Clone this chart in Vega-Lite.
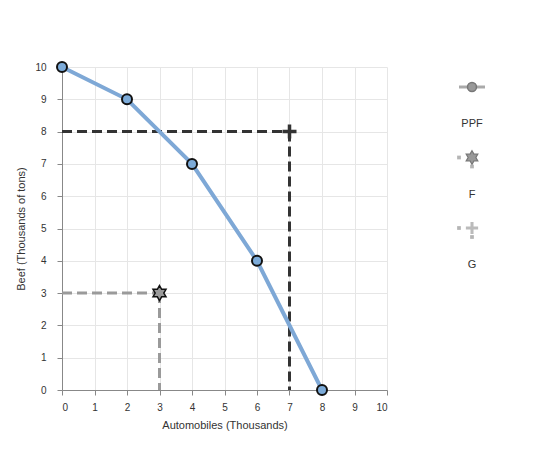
{
  "$schema": "https://vega.github.io/schema/vega-lite/v6.json",
  "background": "white",
  "padding": {"left": 15, "top": 58, "right": 5, "bottom": 5},
  "config": {
    "font": "Liberation Sans",
    "view": {"stroke": null},
    "concat": {"spacing": 64}
  },
  "datasets": {
    "ppf": [
      {"autos": 0, "beef": 10},
      {"autos": 2, "beef": 9},
      {"autos": 4, "beef": 7},
      {"autos": 6, "beef": 4},
      {"autos": 8, "beef": 0}
    ],
    "guides": [
      {"series": "F", "x": 0, "y": 3, "x2": 3, "y2": 3},
      {"series": "F", "x": 3, "y": 3, "x2": 3, "y2": 0},
      {"series": "G", "x": 0, "y": 8, "x2": 7, "y2": 8},
      {"series": "G", "x": 7, "y": 8, "x2": 7, "y2": 0}
    ],
    "points": [
      {"series": "F", "autos": 3, "beef": 3},
      {"series": "G", "autos": 7, "beef": 8}
    ],
    "legend": [
      {"item": "PPF"},
      {"item": "F"},
      {"item": "G"}
    ]
  },
  "hconcat": [
    {
      "width": 325,
      "height": 323,
      "encoding": {
        "x": {
          "type": "quantitative",
          "scale": {"domain": [0, 10], "nice": false},
          "axis": {
            "title": "Automobiles (Thousands)",
            "values": [0,1,2,3,4,5,6,7,8,9,10],
            "grid": true, "gridColor": "#e6e6e6",
            "domainColor": "#888", "tickColor": "#888", "tickSize": 5,
            "labelFontSize": 10, "labelColor": "#333", "labelPadding": 7,
            "titleFontSize": 11, "titleFontWeight": "normal", "titleColor": "#333", "titlePadding": 7
          }
        },
        "y": {
          "type": "quantitative",
          "scale": {"domain": [0, 10], "nice": false},
          "axis": {
            "title": "Beef (Thousands of tons)",
            "values": [0,1,2,3,4,5,6,7,8,9,10],
            "grid": true, "gridColor": "#e6e6e6",
            "domainColor": "#888", "tickColor": "#888", "tickSize": 5,
            "labelFontSize": 10, "labelColor": "#333", "labelPadding": 11,
            "titleFontSize": 11, "titleFontWeight": "normal", "titleColor": "#333", "titlePadding": 8
          }
        }
      },
      "layer": [
        {
          "data": {"name": "guides"},
          "mark": {"type": "rule", "strokeWidth": 3, "strokeDash": [10, 5]},
          "encoding": {
            "x": {"field": "x", "type": "quantitative"},
            "y": {"field": "y", "type": "quantitative"},
            "x2": {"field": "x2"},
            "y2": {"field": "y2"},
            "color": {"field": "series", "type": "nominal", "scale": {"domain": ["F", "G"], "range": ["#9a9a9a", "#333333"]}, "legend": null}
          }
        },
        {
          "data": {"name": "ppf"},
          "mark": {"type": "line", "interpolate": "linear", "color": "#7ea8d6", "strokeWidth": 4},
          "encoding": {
            "x": {"field": "autos", "type": "quantitative"},
            "y": {"field": "beef", "type": "quantitative"}
          }
        },
        {
          "data": {"name": "ppf"},
          "mark": {"type": "point", "shape": "circle", "filled": true, "fill": "#7cabd9", "stroke": "#111", "strokeWidth": 2, "size": 100, "opacity": 1},
          "encoding": {
            "x": {"field": "autos", "type": "quantitative"},
            "y": {"field": "beef", "type": "quantitative"}
          }
        },
        {
          "data": {"name": "points"},
          "transform": [{"filter": "datum.series === 'F'"}],
          "mark": {"type": "point", "shape": "M0,-1L0.289,-0.5L0.866,-0.5L0.577,0L0.866,0.5L0.289,0.5L0,1L-0.289,0.5L-0.866,0.5L-0.577,0L-0.866,-0.5L-0.289,-0.5Z", "filled": true, "fill": "#9a9a9a", "stroke": "#111", "strokeWidth": 1.5, "size": 225, "opacity": 1},
          "encoding": {
            "x": {"field": "autos", "type": "quantitative"},
            "y": {"field": "beef", "type": "quantitative"}
          }
        },
        {
          "data": {"name": "points"},
          "transform": [{"filter": "datum.series === 'G'"}],
          "mark": {"type": "point", "shape": "M-1,-0.25L-0.25,-0.25L-0.25,-1L0.25,-1L0.25,-0.25L1,-0.25L1,0.25L0.25,0.25L0.25,1L-0.25,1L-0.25,0.25L-1,0.25Z", "filled": true, "fill": "#333", "size": 196, "opacity": 1},
          "encoding": {
            "x": {"field": "autos", "type": "quantitative"},
            "y": {"field": "beef", "type": "quantitative"}
          }
        }
      ]
    },
    {
      "width": 40,
      "height": 323,
      "data": {"name": "legend"},
      "encoding": {
        "y": {"field": "item", "type": "ordinal", "scale": {"type": "point", "domain": ["PPF", "F", "G"], "range": [20, 161], "padding": 0}, "axis": null}
      },
      "layer": [
        {
          "transform": [{"filter": "datum.item === 'PPF'"}],
          "mark": {"type": "rule", "color": "#aaa", "strokeWidth": 3},
          "encoding": {
            "x": {"datum": -0.65, "type": "quantitative", "scale": {"domain": [-1, 1]}, "axis": null},
            "x2": {"datum": 0.65}
          }
        },
        {
          "transform": [{"filter": "datum.item === 'PPF'"}],
          "mark": {"type": "point", "shape": "circle", "filled": true, "fill": "#999", "stroke": "#777", "strokeWidth": 1.5, "size": 80, "opacity": 1},
          "encoding": {"x": {"datum": 0, "type": "quantitative", "scale": {"domain": [-1, 1]}, "axis": null}}
        },
        {
          "transform": [{"filter": "datum.item !== 'PPF'"}],
          "mark": {"type": "point", "shape": "square", "filled": true, "color": "#b5b5b5", "size": 14, "opacity": 1, "xOffset": -13},
          "encoding": {"x": {"datum": 0, "type": "quantitative", "scale": {"domain": [-1, 1]}, "axis": null}}
        },
        {
          "transform": [{"filter": "datum.item !== 'PPF'"}],
          "mark": {"type": "point", "shape": "square", "filled": true, "color": "#b5b5b5", "size": 14, "opacity": 1, "yOffset": 9},
          "encoding": {"x": {"datum": 0, "type": "quantitative", "scale": {"domain": [-1, 1]}, "axis": null}}
        },
        {
          "transform": [{"filter": "datum.item === 'F'"}],
          "mark": {"type": "point", "shape": "M0,-1L0.289,-0.5L0.866,-0.5L0.577,0L0.866,0.5L0.289,0.5L0,1L-0.289,0.5L-0.866,0.5L-0.577,0L-0.866,-0.5L-0.289,-0.5Z", "filled": true, "fill": "#999", "stroke": "#777", "strokeWidth": 1.2, "size": 180, "opacity": 1},
          "encoding": {"x": {"datum": 0, "type": "quantitative", "scale": {"domain": [-1, 1]}, "axis": null}}
        },
        {
          "transform": [{"filter": "datum.item === 'G'"}],
          "mark": {"type": "point", "shape": "M-1,-0.25L-0.25,-0.25L-0.25,-1L0.25,-1L0.25,-0.25L1,-0.25L1,0.25L0.25,0.25L0.25,1L-0.25,1L-0.25,0.25L-1,0.25Z", "filled": true, "fill": "#bbb", "size": 150, "opacity": 1},
          "encoding": {"x": {"datum": 0, "type": "quantitative", "scale": {"domain": [-1, 1]}, "axis": null}}
        },
        {
          "mark": {"type": "text", "fontSize": 11, "color": "#333", "dy": 37, "align": "center"},
          "encoding": {
            "x": {"datum": 0, "type": "quantitative", "scale": {"domain": [-1, 1]}, "axis": null},
            "text": {"field": "item"}
          }
        }
      ]
    }
  ]
}
